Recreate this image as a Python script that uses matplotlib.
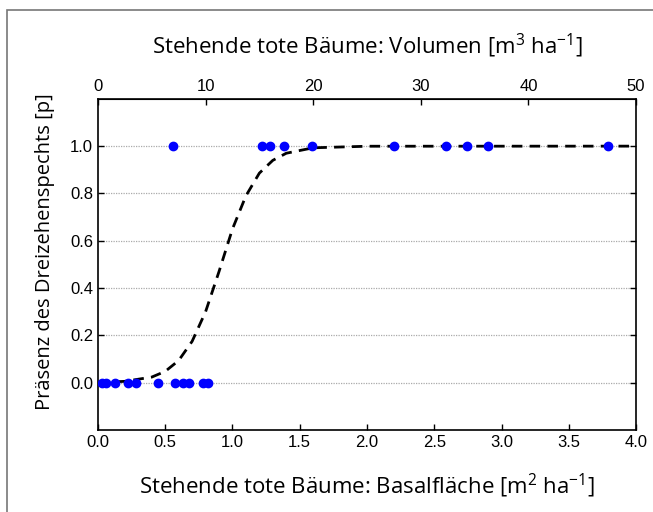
import matplotlib
matplotlib.use("Agg")
import matplotlib.pyplot as plt
from matplotlib.patches import Rectangle

# observations: basal area [m2/ha] and presence (0/1)
absent_x = [0.03, 0.06, 0.13, 0.22, 0.28, 0.45, 0.57, 0.63, 0.68, 0.78, 0.82]
present_x = [0.56, 1.22, 1.28, 1.38, 1.59, 2.20, 2.59, 2.74, 2.90, 3.79]

# fitted curve
curve_x = [0.0, 0.2, 0.4, 0.5, 0.6, 0.7, 0.8, 0.9, 1.0, 1.1, 1.2, 1.3, 1.4, 1.6, 2.0, 4.0]
curve_y = [0.001, 0.006, 0.024, 0.048, 0.094, 0.175, 0.30, 0.47, 0.65, 0.79, 0.886, 0.94, 0.97, 0.993, 0.9996, 1.0]

x_ticks = [0.0, 0.5, 1.0, 1.5, 2.0, 2.5, 3.0, 3.5, 4.0]
y_ticks = [0.0, 0.2, 0.4, 0.6, 0.8, 1.0]
vol_ticks = [0, 10, 20, 30, 40, 50]

label_font = "Open Sans"
tick_font = "Liberation Sans"
plt.rcParams["mathtext.fontset"] = "custom"
plt.rcParams["mathtext.rm"] = label_font
plt.rcParams["mathtext.it"] = label_font

fig = plt.figure(figsize=(6.53, 5.12), dpi=100)
fig.patches.append(Rectangle((7 / 653, -0.05), 1.2, 1 - 10 / 512 + 0.05,
                             transform=fig.transFigure, fill=False,
                             edgecolor="#777777", linewidth=1.2))
ax = fig.add_axes([0.150, 0.160, 0.824, 0.647])

for y in y_ticks:
    ax.axhline(y, color="#aaaaaa", linestyle=(0, (1, 1)), linewidth=0.9, zorder=1)

ax.plot(curve_x, curve_y, color="black", linestyle=(0, (3.8, 2.6)), linewidth=2, zorder=2)
ax.plot(absent_x, [0] * len(absent_x), "o", color="#0000ff", markersize=6, zorder=3)
ax.plot(present_x, [1] * len(present_x), "o", color="#0000ff", markersize=6, zorder=3)

ax.set_xlim(0, 4.0)
ax.set_ylim(-0.2, 1.2)
ax.set_xticks(x_ticks)
ax.set_xticklabels([f"{t:.1f}" for t in x_ticks], family=tick_font, fontsize=12)
ax.set_yticks(y_ticks)
ax.set_yticklabels([f"{t:.1f}" for t in y_ticks], family=tick_font, fontsize=12)
ax.tick_params(direction="in", length=4, width=1, right=True)

ax.set_xlabel("Stehende tote Bäume: Basalfläche [m$^2$ ha$^{\u2212 1}$]",
              family=label_font, fontsize=16, labelpad=16)
ax.set_ylabel("Präsenz des Dreizehenspechts [p]", family=label_font, fontsize=14.5)
ax.yaxis.set_label_coords(-0.08, 0.54)

top = ax.secondary_xaxis("top", functions=(lambda x: x * 12.5, lambda v: v / 12.5))
top.set_xticks(vol_ticks)
top.set_xticklabels([str(v) for v in vol_ticks], family=tick_font, fontsize=12)
top.tick_params(direction="in", length=4, width=1)
top.set_xlabel("Stehende tote Bäume: Volumen [m$^3$ ha$^{\u2212 1}$]",
               family=label_font, fontsize=16, labelpad=18)

for s in ax.spines.values():
    s.set_linewidth(1.2)

fig.savefig("out.png", dpi=100)
